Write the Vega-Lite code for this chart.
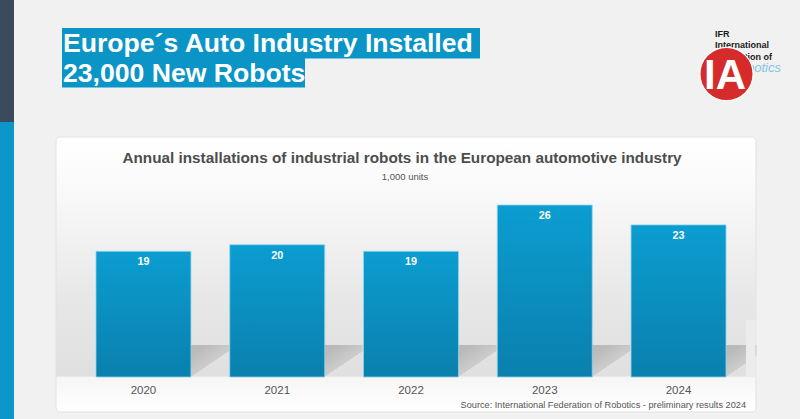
{
  "$schema": "https://vega.github.io/schema/vega-lite/v6.json",
  "width": 800,
  "height": 419,
  "autosize": {"type": "none"},
  "padding": 0,
  "background": "#f1f1f1",
  "config": {"view": {"stroke": null}, "font": "Liberation Sans"},
  "datasets": {
    "installs": [
      {"year": "2020", "units": 19},
      {"year": "2021", "units": 20},
      {"year": "2022", "units": 19},
      {"year": "2023", "units": 26},
      {"year": "2024", "units": 23}
    ]
  },
  "layer": [
    {
      "data": {"values": [{}]},
      "mark": {"type": "rect", "color": "#3c4a5d"},
      "encoding": {"x": {"value": 0}, "x2": {"value": 14}, "y": {"value": 0}, "y2": {"value": 122}}
    },
    {
      "data": {"values": [{}]},
      "mark": {"type": "rect", "color": "#0b97c9"},
      "encoding": {"x": {"value": 0}, "x2": {"value": 14}, "y": {"value": 122}, "y2": {"value": 419}}
    },
    {
      "data": {"values": [{}]},
      "mark": {"type": "rect", "color": "#0b95c7"},
      "encoding": {"x": {"value": 62}, "x2": {"value": 480}, "y": {"value": 28}, "y2": {"value": 58.5}}
    },
    {
      "data": {"values": [{}]},
      "mark": {"type": "rect", "color": "#0b95c7"},
      "encoding": {"x": {"value": 62}, "x2": {"value": 305}, "y": {"value": 58}, "y2": {"value": 87.5}}
    },
    {
      "data": {"values": [{}]},
      "mark": {
        "type": "text",
        "text": ["Europe´s Auto Industry Installed", "23,000 New Robots"],
        "align": "left",
        "baseline": "alphabetic",
        "lineHeight": 29.5,
        "font": "Liberation Sans",
        "fontSize": 26.6,
        "fontWeight": "bold",
        "color": "#ffffff"
      },
      "encoding": {"x": {"value": 63}, "y": {"value": 52}}
    },
    {
      "data": {"values": [{}]},
      "mark": {
        "type": "text",
        "text": ["IFR", "International", "Federation of"],
        "align": "left",
        "baseline": "alphabetic",
        "lineHeight": 11.5,
        "font": "Liberation Sans",
        "fontSize": 9,
        "fontWeight": "bold",
        "color": "#1a1a1a"
      },
      "encoding": {"x": {"value": 715}, "y": {"value": 36.5}}
    },
    {
      "data": {"values": [{}]},
      "mark": {
        "type": "text",
        "text": "Robotics",
        "align": "right",
        "baseline": "alphabetic",
        "font": "Liberation Sans",
        "fontSize": 13,
        "fontStyle": "italic",
        "color": "#7fc5e3"
      },
      "encoding": {"x": {"value": 781}, "y": {"value": 72}}
    },
    {
      "data": {"values": [{}]},
      "mark": {"type": "point", "shape": "circle", "filled": true, "size": 2830, "color": "#d62b2b", "opacity": 1, "stroke": "#ffffff", "strokeWidth": 1.2},
      "encoding": {"x": {"value": 726.5}, "y": {"value": 74}}
    },
    {
      "data": {"values": [{}]},
      "mark": {
        "type": "text",
        "text": "IA",
        "align": "center",
        "baseline": "alphabetic",
        "font": "Liberation Sans",
        "fontSize": 42,
        "fontWeight": "bold",
        "color": "#ffffff"
      },
      "encoding": {"x": {"value": 725}, "y": {"value": 88.5}}
    },
    {
      "data": {"values": [{}]},
      "mark": {
        "type": "rect",
        "cornerRadius": 4,
        "stroke": "#e2e2e2",
        "strokeWidth": 1,
        "fill": {
          "gradient": "linear",
          "x1": 0, "y1": 0, "x2": 0, "y2": 1,
          "stops": [
            {"offset": 0, "color": "#ffffff"},
            {"offset": 0.23, "color": "#f8f8f8"},
            {"offset": 0.59, "color": "#e7e7e7"},
            {"offset": 0.868, "color": "#e0e0e0"},
            {"offset": 0.875, "color": "#f6f6f6"},
            {"offset": 1, "color": "#ffffff"}
          ]
        }
      },
      "encoding": {"x": {"value": 56}, "x2": {"value": 756}, "y": {"value": 137}, "y2": {"value": 412}}
    },
    {
      "data": {"name": "installs"},
      "encoding": {
        "x": {
          "field": "year",
          "type": "ordinal",
          "scale": {"range": [96, 726], "paddingInner": 0.29, "paddingOuter": 0},
          "axis": {
            "title": null,
            "orient": "bottom",
            "offset": -29,
            "zindex": 1,
            "domain": false,
            "ticks": false,
            "tickSize": 0,
            "labelPadding": 0,
            "labelBaseline": "middle",
            "labelAngle": 0,
            "labelFont": "Liberation Sans",
            "labelFontSize": 11.5,
            "labelColor": "#555555",
            "grid": false
          }
        },
        "y": {
          "field": "units",
          "type": "quantitative",
          "scale": {"domain": [0, 57], "range": [377, 0]},
          "axis": null
        }
      },
      "layer": [
        {
          "mark": {
            "type": "bar",
            "xOffset": 38,
            "fill": {
              "gradient": "linear",
              "x1": 0, "y1": 0, "x2": 1, "y2": 0.5,
              "stops": [
                {"offset": 0, "color": "#b5b5b5"},
                {"offset": 0.6, "color": "#bababa"},
                {"offset": 0.875, "color": "#cdcdcd"},
                {"offset": 0.88, "color": "rgba(226,226,226,0)"},
                {"offset": 1, "color": "rgba(226,226,226,0)"}
              ]
            }
          },
          "encoding": {"y": {"datum": 4.85}, "y2": {"datum": 0}}
        },
        {
          "mark": {
            "type": "bar",
            "stroke": "#8fd3ec",
            "strokeWidth": 0.8,
            "fill": {
              "gradient": "linear",
              "x1": 0, "y1": 0, "x2": 0, "y2": 1,
              "stops": [
                {"offset": 0, "color": "#0b9dd1"},
                {"offset": 1, "color": "#0a80ad"}
              ]
            }
          }
        },
        {
          "mark": {
            "type": "text",
            "baseline": "middle",
            "dy": 11,
            "font": "Liberation Sans",
            "fontSize": 10.8,
            "fontWeight": "bold",
            "color": "#ffffff"
          },
          "encoding": {"text": {"field": "units", "type": "quantitative"}}
        }
      ]
    },
    {
      "data": {"values": [{}]},
      "mark": {"type": "rect", "color": "#ececec"},
      "encoding": {"x": {"value": 746}, "x2": {"value": 755.5}, "y": {"value": 320}, "y2": {"value": 377}}
    },
    {
      "data": {"values": [{}]},
      "mark": {"type": "rect", "color": "#f1f1f1"},
      "encoding": {"x": {"value": 756.5}, "x2": {"value": 775}, "y": {"value": 320}, "y2": {"value": 380}}
    },
    {
      "data": {"values": [{}]},
      "mark": {
        "type": "text",
        "text": "Annual installations of industrial robots in the European automotive industry",
        "align": "center",
        "baseline": "middle",
        "font": "Liberation Sans",
        "fontSize": 15.3,
        "fontWeight": "bold",
        "color": "#4d4d4d"
      },
      "encoding": {"x": {"value": 402}, "y": {"value": 158}}
    },
    {
      "data": {"values": [{}]},
      "mark": {
        "type": "text",
        "text": "1,000 units",
        "align": "center",
        "baseline": "middle",
        "font": "Liberation Sans",
        "fontSize": 9.5,
        "color": "#555555"
      },
      "encoding": {"x": {"value": 405}, "y": {"value": 177}}
    },
    {
      "data": {"values": [{}]},
      "mark": {
        "type": "text",
        "text": "Source: International Federation of Robotics - preliminary results 2024",
        "align": "right",
        "baseline": "middle",
        "font": "Liberation Sans",
        "fontSize": 9.2,
        "color": "#555555"
      },
      "encoding": {"x": {"value": 746}, "y": {"value": 404.5}}
    }
  ]
}
